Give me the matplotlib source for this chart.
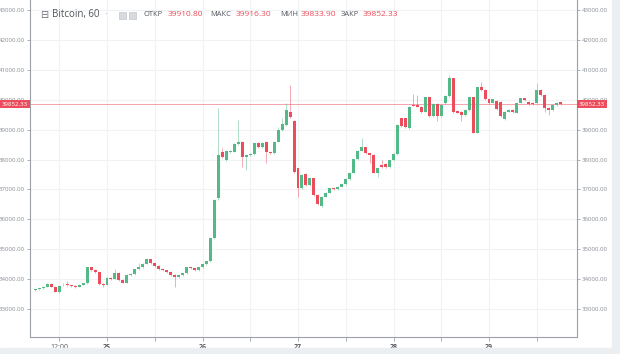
import pandas as pd
import numpy as np
import matplotlib.pyplot as plt
import matplotlib.dates as mdates
from matplotlib.patches import Rectangle

# hourly Bitcoin candles, 24 Jan 06:00 .. 29 Jan 18:00
start = "2018-01-24 06:00"

opens = [33634, 33657, 33690, 33746, 33835, 33746, 33557, 33790, 33824, 33790,
         33768, 33750, 33813, 33858, 34393, 34304, 34226, 33835, 33810, 34047,
         34003, 34215, 33970, 33880, 34137, 34170, 34326, 34393, 34504, 34660,
         34527, 34437, 34326, 34304, 34237, 34137, 34080, 34137, 34192, 34393,
         34360, 34304, 34393, 34504, 34593, 35363, 36700, 38262, 37983, 38262,
         38262, 38518, 38596, 38095, 38150, 38184, 38540, 38407, 38596, 38262,
         38206, 38596, 38987, 39154, 39600, 39288, 37704, 37035, 37515, 37147,
         37370, 36812, 36456, 36757, 36890, 37058, 37000, 37091, 37180, 37336,
         37560, 38006, 38295, 38407, 38206, 38150, 37560, 37816, 37849, 37738,
         37983, 38184, 39377, 39377, 39042, 39823, 39823, 39767, 39600, 40079,
         39455, 39856, 39455, 39878, 40124, 40715, 39633, 39600, 39488, 39656,
         40079, 38897, 40414, 40325, 40012, 39900, 39968, 39934, 39343, 39600,
         39656, 39566, 39900, 40046, 39934, 39900, 39878, 40325, 40157, 39711,
         39656, 39823, 39910.80]
highs = [33680, 33700, 33760, 33880, 33860, 33760, 33790, 33880, 33946, 33820,
         33790, 33830, 33880, 34420, 34410, 34330, 34250, 33870, 34070, 34080,
         34330, 34230, 33990, 34160, 34200, 34350, 34530, 34530, 34700, 34680,
         34550, 34460, 34350, 34320, 34260, 34160, 34160, 34210, 34420, 34420,
         34380, 34420, 34530, 34620, 35380, 36680, 39710, 38400, 38320, 38330,
         38540, 39320, 38620, 38180, 38210, 38560, 38570, 38590, 38620, 38290,
         38620, 39100, 39400, 39900, 40490, 39310, 37730, 37500, 37540, 37400,
         37390, 36840, 36780, 36910, 37060, 37080, 37110, 37200, 37360, 37580,
         38030, 38320, 38730, 38430, 38230, 38170, 37730, 38000, 37870, 38000,
         38210, 39180, 39400, 39400, 39790, 40200, 40150, 39790, 40100, 40100,
         39880, 39880, 39850, 40150, 40830, 40740, 39660, 39620, 39680, 40100,
         40100, 40440, 40600, 40350, 40030, 40040, 39990, 39960, 39620, 39680,
         39680, 39920, 40070, 40070, 39960, 39920, 40550, 40350, 40180, 39740,
         39840, 39920, 39916.30]
lows = [33610, 33640, 33670, 33730, 33730, 33560, 33540, 33770, 33780, 33740,
        33720, 33730, 33800, 33840, 34280, 34200, 33790, 33740, 33790, 33980,
        33990, 33950, 33860, 33860, 34110, 34150, 34300, 34370, 34490, 34500,
        34410, 34300, 34280, 34210, 34110, 33740, 34050, 34110, 34170, 34340,
        34280, 34280, 34370, 34480, 34570, 35340, 36650, 38050, 37950, 38230,
        38240, 38490, 37760, 37650, 38120, 38160, 38380, 38380, 37880, 38180,
        38180, 38570, 38960, 39130, 39380, 37560, 36750, 37010, 37120, 37120,
        36790, 36470, 36420, 36730, 36870, 36980, 36980, 37070, 37160, 37310,
        37540, 37980, 38270, 38180, 37900, 37540, 37400, 37700, 37710, 37720,
        37960, 38160, 39100, 39050, 39020, 39780, 39740, 39560, 39580, 39430,
        39430, 39300, 39430, 39850, 40100, 39570, 39540, 39300, 39460, 39630,
        38870, 38870, 40300, 39990, 39870, 39880, 39650, 39430, 39320, 39580,
        39570, 39540, 39880, 39960, 39830, 39830, 39850, 40130, 39580, 39500,
        39630, 39800, 39833.90]
closes = [33657, 33690, 33746, 33835, 33746, 33579, 33768, 33813, 33790, 33768,
          33746, 33813, 33858, 34393, 34304, 34226, 33835, 33800, 34047, 34003,
          34215, 33970, 33880, 34137, 34170, 34326, 34393, 34504, 34660, 34527,
          34437, 34326, 34304, 34237, 34137, 34080, 34137, 34192, 34393, 34360,
          34304, 34393, 34504, 34593, 35363, 36645, 38150, 38095, 38295, 38300,
          38518, 38596, 38095, 38150, 38184, 38540, 38407, 38563, 38262, 38206,
          38596, 38987, 39187, 39656, 39410, 37593, 37035, 37481, 37147, 37370,
          36812, 36511, 36757, 36890, 37035, 37002, 37091, 37180, 37336, 37560,
          38006, 38295, 38429, 38206, 38150, 37560, 37704, 37738, 37738, 37983,
          38184, 39154, 39120, 39098, 39767, 39790, 39767, 39600, 40079, 39455,
          39856, 39455, 39823, 40124, 40715, 39600, 39566, 39488, 39656, 40079,
          38897, 40414, 40325, 40012, 39900, 40012, 39678, 39455, 39600, 39656,
          39600, 39900, 40046, 39990, 39856, 39856, 40325, 40157, 39711, 39656,
          39823, 39900, 39852.33]

last_price = 39852.33
y_ticks = [33000, 34000, 35000, 36000, 37000, 38000, 39000, 40000, 41000, 42000, 43000]
x_tick_labels = ["12:00", "25", "", "26", "", "27", "", "28", "", "29", ""]

GREEN = "#53b987"
RED = "#eb4d5c"
GRID = "#f0f2f4"
TXT = "#8a8f96"

plt.rcParams['font.family'] = ['Open Sans', 'DejaVu Sans']

times = pd.date_range(start, periods=len(opens), freq="h")
x = mdates.date2num(times.to_pydatetime())
o = np.array(opens)
h = np.array(highs)
l = np.array(lows)
c = np.array(closes)
up = c >= o
cols = np.where(up, GREEN, RED)

fig = plt.figure(figsize=(6.2, 3.54), dpi=100)
# grey frame at the right and bottom
fig.patches.append(Rectangle((612 / 620, 0), 8 / 620, 1, transform=fig.transFigure,
                             color="#eceff2", zorder=0))
fig.patches.append(Rectangle((0, 0), 1, 6 / 354, transform=fig.transFigure,
                             color="#eceff2", zorder=0))

ax = fig.add_axes([30 / 620, 17 / 354, 547 / 620, 337 / 354])

# wicks and bodies
w = 0.75 / 24
ax.vlines(x, l, h, colors=cols, linewidth=0.6, alpha=0.55, zorder=2)
ax.bar(x, np.maximum(np.abs(c - o), 8), bottom=np.minimum(o, c), width=w,
       color=cols, linewidth=0, zorder=3)

ax.axhline(last_price, color=RED, linewidth=0.6, alpha=0.6, zorder=1)

ax.set_ylim(32065, 43334)
x0 = mdates.date2num(pd.Timestamp("2018-01-25").to_pydatetime())
ax.set_xlim(x0 - 77 / 95.5, x0 + 470 / 95.5)

ax.set_yticks(y_ticks)
ax.set_yticklabels(["%.2f" % v for v in y_ticks])
xt = mdates.date2num(pd.date_range("2018-01-24 12:00", periods=11, freq="12h").to_pydatetime())
ax.set_xticks(xt)
ax.set_xticklabels(x_tick_labels)
for t in ax.get_xticklabels()[1:]:
    t.set_fontweight("bold")

ax.grid(True, color=GRID, linewidth=0.8, zorder=0)
ax.set_axisbelow(True)
ax.tick_params(axis="y", which="both", left=True, right=True, labelleft=True,
               labelright=True, labelsize=4.4, colors=TXT, length=2.5, width=0.5, pad=1)
ax.tick_params(axis="x", labelsize=5, colors=TXT, length=3, width=0.5, pad=2)
for t in ax.get_xticklabels():
    t.set_color("#555a60")
for side in ["left", "right", "bottom"]:
    ax.spines[side].set_color("#9aa0a6")
    ax.spines[side].set_linewidth(0.8)
ax.spines["top"].set_visible(False)

# last price markers on both scales
bb = dict(boxstyle="square,pad=0.3", fc=RED, ec="none")
ax.text(1.003, last_price, "%.2f" % last_price, transform=ax.get_yaxis_transform(),
        ha="left", va="center", fontsize=4.4, color="white", bbox=bb, zorder=10)
ax.text(-0.003, last_price, "%.2f" % last_price, transform=ax.get_yaxis_transform(),
        ha="right", va="center", fontsize=4.4, color="white", bbox=bb, zorder=10)

# legend line at the top
def px(xp, yp):
    return xp / 620, 1 - yp / 354

fig.text(*px(40, 15), "⊟", fontsize=7, color="#6a6f76", va="center",
         family=["DejaVu Sans"])
fig.text(*px(52, 15), "Bitcoin, 60", fontsize=7, color="#50555c", va="center")
fig.text(*px(104, 15), "·", fontsize=7, color="#b0b5ba", va="center")
for xp in [119, 129]:
    fig.patches.append(Rectangle(px(xp, 19), 7 / 620, 7 / 354, transform=fig.transFigure,
                                 fc="#d8dbde", ec="#c4c8cc", lw=0.5))
heads = [("ОТКР", 143, "39910.80", 168), ("МАКС", 210, "39916.30", 236),
         ("МИН", 280, "39833.90", 301), ("ЗАКР", 341, "39852.33", 363)]
for lab, lx, val, vx in heads:
    fig.text(*px(lx, 15), lab, fontsize=5.4, color="#50555c", va="center")
    fig.text(*px(vx, 15), val, fontsize=6, color=RED, va="center")

fig.savefig("out.png", dpi=100)
